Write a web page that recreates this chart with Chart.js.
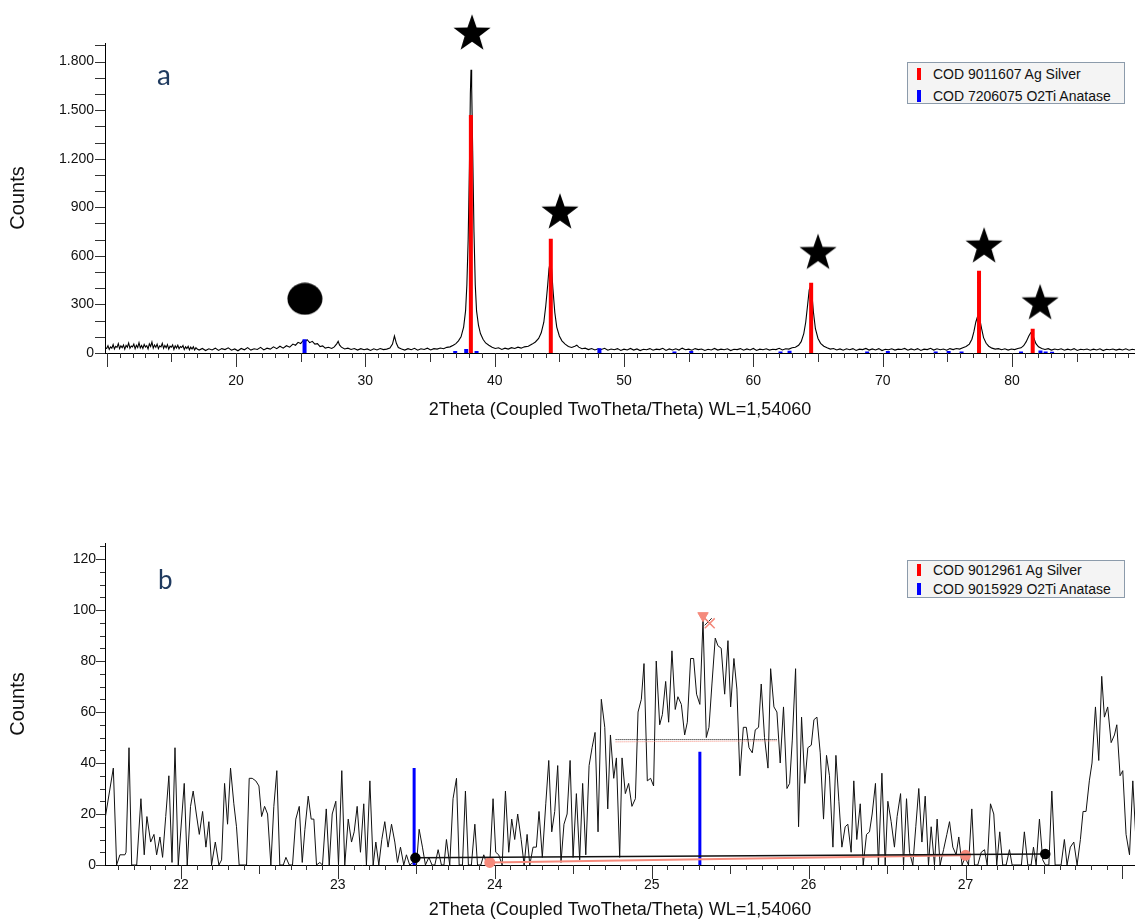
<!DOCTYPE html>
<html><head><meta charset="utf-8">
<script src="https://cdn.jsdelivr.net/npm/chart.js@4.4.1/dist/chart.umd.min.js"></script>
<style>
html,body{margin:0;padding:0;background:#fff;}
#wrap{position:relative;width:1135px;height:921px;overflow:hidden;background:#fff;font-family:"Liberation Sans",Arial,sans-serif;}
canvas{position:absolute;left:0;}
#ca{top:0}
#cb{top:460px}
.legend{position:absolute;left:907px;width:218px;background:#f4f4f4;border:1px solid #8c9bab;font-size:14px;color:#111;box-sizing:border-box;}
.legend .row{position:absolute;left:0;height:16px;line-height:16px;white-space:nowrap;}
.legend .mk{position:absolute;left:9px;top:2px;width:4px;height:12px;}
.legend .tx{position:absolute;left:25px;top:0;}
.panel-label{position:absolute;font-family:Lato,"Open Sans",sans-serif;color:#1f3a5f;}
</style></head>
<body>
<div id="wrap">
<canvas id="ca" width="1135" height="460"></canvas>
<canvas id="cb" width="1135" height="461"></canvas>
<div class="panel-label" style="left:157px;top:57px;font-size:28px;">a</div>
<div class="panel-label" style="left:158px;top:563px;font-size:26px;">b</div>
<div class="legend" style="top:62px;height:42px;">
  <div class="row" style="top:3px;"><span class="mk" style="background:#ff0000"></span><span class="tx" id="la1"></span></div>
  <div class="row" style="top:25px;"><span class="mk" style="background:#0000ff"></span><span class="tx" id="la2"></span></div>
</div>
<div class="legend" style="top:560px;height:38px;">
  <div class="row" style="top:1px;"><span class="mk" style="background:#ff0000"></span><span class="tx" id="lb1"></span></div>
  <div class="row" style="top:20px;"><span class="mk" style="background:#0000ff"></span><span class="tx" id="lb2"></span></div>
</div>
</div>
<script>
// ---------------- DATA ----------------
const legendA = ['COD 9011607 Ag Silver', 'COD 7206075 O2Ti Anatase'];
const legendB = ['COD 9012961 Ag Silver', 'COD 9015929 O2Ti Anatase'];
const axisTitleX = '2Theta (Coupled TwoTheta/Theta) WL=1,54060';
const axisTitleY = 'Counts';

// panel a: measured pattern [2theta, counts]
const scanA = [
[9.9,30],[10.0,28],[10.1,45],[10.2,22],[10.3,38],[10.4,30],[10.5,52],[10.6,25],[10.7,41],[10.8,35],[10.9,58],[11.0,27],[11.1,44],[11.2,33],[11.3,50],[11.4,24],[11.5,47],[11.6,36],[11.7,62],[11.8,29],[11.9,43],[12.0,38],[12.1,55],[12.2,26],[12.3,48],[12.4,34],[12.5,64],[12.6,31],[12.7,46],[12.8,28],[12.9,53],[13.0,37],[13.1,45],[13.2,25],[13.3,57],[13.4,40],[13.5,68],[13.6,30],[13.7,49],[13.8,35],[13.9,55],[14.0,27],[14.1,44],[14.2,38],[14.3,60],[14.4,29],[14.5,47],[14.6,33],[14.7,52],[14.8,24],[14.9,42],[15.0,36],[15.1,50],[15.2,22],[15.3,45],[15.4,31],[15.5,48],[15.6,26],[15.7,40],[15.8,34],[15.9,46],[16.0,21],[16.1,38],[16.2,28],[16.3,42],[16.4,20],[16.5,36],[16.6,25],[16.7,39],[16.8,19],[16.9,33],[17.0,24],[17.15,18],[17.4,28],[17.65,15],[17.9,26],[18.15,19],[18.4,30],[18.65,16],[18.9,27],[19.15,21],[19.4,32],[19.65,17],[19.9,25],[20.15,14],[20.4,28],[20.65,20],[20.9,33],[21.15,18],[21.4,26],[21.65,22],[21.9,35],[22.15,19],[22.4,30],[22.65,24],[22.9,38],[23.15,27],[23.4,42],[23.65,30],[23.9,45],[24.15,36],[24.4,55],[24.6,48],[24.8,66],[25.0,58],[25.2,78],[25.35,70],[25.5,82],[25.7,64],[25.9,72],[26.1,55],[26.3,58],[26.5,40],[26.7,44],[26.9,30],[27.15,35],[27.4,28],[27.6,38],[27.8,58],[27.9,72],[28.0,50],[28.15,36],[28.4,25],[28.65,30],[28.9,22],[29.15,28],[29.4,18],[29.65,27],[29.9,20],[30.15,25],[30.4,16],[30.65,26],[30.9,19],[31.15,28],[31.4,21],[31.65,24],[31.9,30],[32.1,55],[32.25,105],[32.4,60],[32.55,34],[32.8,25],[33.05,18],[33.3,27],[33.55,20],[33.8,29],[34.05,17],[34.3,26],[34.55,22],[34.8,30],[35.05,19],[35.3,27],[35.55,24],[35.8,31],[36.05,26],[36.3,35],[36.55,38],[36.8,48],[37.0,58],[37.2,75],[37.4,100],[37.6,160],[37.75,260],[37.85,420],[37.95,700],[38.05,1150],[38.12,1600],[38.17,1750],[38.22,1650],[38.3,1250],[38.4,750],[38.5,420],[38.6,260],[38.75,170],[38.9,120],[39.1,85],[39.3,62],[39.55,48],[39.8,35],[40.05,28],[40.3,32],[40.55,22],[40.8,30],[41.05,24],[41.3,33],[41.55,28],[41.8,36],[42.05,30],[42.3,38],[42.6,42],[42.9,55],[43.15,68],[43.4,90],[43.6,125],[43.8,190],[43.95,290],[44.1,420],[44.2,520],[44.3,565],[44.4,520],[44.5,400],[44.65,250],[44.8,160],[45.0,105],[45.2,75],[45.45,55],[45.7,40],[45.95,34],[46.2,42],[46.35,48],[46.5,36],[46.75,26],[47.0,30],[47.25,21],[47.5,28],[47.75,19],[48.0,26],[48.25,22],[48.5,29],[48.75,17],[49.0,25],[49.25,20],[49.5,27],[49.75,16],[50.0,24],[50.25,19],[50.5,28],[50.75,18],[51.0,25],[51.25,15],[51.5,23],[51.75,20],[52.0,27],[52.25,17],[52.5,24],[52.75,21],[53.0,29],[53.25,16],[53.5,25],[53.75,19],[54.0,26],[54.25,18],[54.5,30],[54.75,20],[55.0,24],[55.25,17],[55.5,27],[55.75,21],[56.0,25],[56.25,16],[56.5,23],[56.75,19],[57.0,28],[57.25,18],[57.5,24],[57.75,20],[58.0,26],[58.25,15],[58.5,23],[58.75,21],[59.0,27],[59.25,17],[59.5,25],[59.75,19],[60.0,28],[60.25,16],[60.5,24],[60.75,20],[61.0,26],[61.25,18],[61.5,23],[61.75,21],[62.0,29],[62.25,19],[62.5,26],[62.75,24],[63.0,32],[63.25,36],[63.5,48],[63.7,70],[63.9,120],[64.05,190],[64.2,300],[64.32,390],[64.42,410],[64.52,370],[64.65,250],[64.8,150],[65.0,90],[65.2,60],[65.45,42],[65.7,32],[65.95,24],[66.2,28],[66.45,19],[66.7,25],[66.95,17],[67.2,26],[67.45,20],[67.7,27],[67.95,16],[68.2,24],[68.45,21],[68.7,28],[68.95,18],[69.2,25],[69.45,19],[69.7,27],[69.95,15],[70.2,23],[70.45,20],[70.7,26],[70.95,18],[71.2,24],[71.45,22],[71.7,28],[71.95,17],[72.2,25],[72.45,19],[72.7,27],[72.95,16],[73.2,24],[73.45,21],[73.7,29],[73.95,18],[74.2,26],[74.45,20],[74.7,25],[74.95,17],[75.2,27],[75.45,21],[75.7,28],[75.95,24],[76.2,33],[76.45,40],[76.7,55],[76.9,85],[77.05,130],[77.2,190],[77.32,222],[77.42,228],[77.52,205],[77.65,150],[77.8,95],[78.0,60],[78.2,42],[78.45,30],[78.7,24],[78.95,27],[79.2,20],[79.45,26],[79.7,18],[79.95,25],[80.2,21],[80.45,28],[80.7,32],[80.9,45],[81.1,70],[81.3,105],[81.45,125],[81.55,122],[81.7,90],[81.85,58],[82.05,38],[82.3,28],[82.55,22],[82.8,27],[83.05,18],[83.3,25],[83.55,20],[83.8,26],[84.05,17],[84.3,24],[84.55,19],[84.8,27],[85.05,16],[85.3,23],[85.55,20],[85.8,25],[86.05,17],[86.3,24],[86.55,19],[86.8,26],[87.05,15],[87.3,23],[87.55,20],[87.8,25],[88.05,18],[88.3,24],[88.55,19],[88.8,26],[89.05,17],[89.3,23],[89.55,20]
];
// panel a reference lines
const agPosA = [38.16, 44.34, 64.47, 77.45, 81.6];
const agIntA = [1470, 706, 434, 508, 150];
const tiPosA = [25.3, 36.95, 37.8, 38.6, 48.1, 53.9, 55.2, 62.1, 62.8, 68.8, 70.4, 74.1, 75.1, 76.1, 80.7, 82.2, 82.6, 83.1];
const tiIntA = [85, 12, 25, 12, 30, 10, 12, 10, 14, 10, 12, 10, 12, 10, 10, 15, 10, 8];
// panel a annotations
const starPos = [38.25, 45.05, 65.0, 77.84, 82.17];
const starY = [1983, 878, 628, 668, 317];
const dotPos = [25.33];
const dotY = [335];

// panel b: measured pattern [2theta, counts]
const scanB = [
[21.516,18],[21.569,38],[21.590,0],[21.611,4],[21.643,4],[21.650,5],[21.669,46],[21.686,0],[21.718,0],[21.745,26],[21.766,4],[21.783,19],[21.807,9],[21.828,12],[21.845,4],[21.866,11],[21.883,3],[21.903,19],[21.923,35],[21.943,1],[21.962,46],[21.983,0],[22.021,32],[22.040,0],[22.061,23],[22.078,29],[22.098,20],[22.117,12],[22.138,21],[22.159,7],[22.178,17],[22.195,0],[22.219,9],[22.242,0],[22.259,2],[22.278,32],[22.297,16],[22.316,38],[22.337,24],[22.354,15],[22.371,0],[22.418,0],[22.435,34],[22.454,34],[22.477,33],[22.497,31],[22.514,19],[22.533,23],[22.552,20],[22.573,0],[22.592,23],[22.611,37],[22.630,0],[22.652,0],[22.669,3],[22.690,0],[22.711,0],[22.732,18],[22.754,23],[22.773,1],[22.790,14],[22.811,27],[22.830,18],[22.847,18],[22.864,0],[22.885,1],[22.902,0],[22.926,22],[22.945,0],[22.964,20],[22.987,25],[23.004,0],[23.025,37],[23.044,0],[23.066,18],[23.087,9],[23.104,13],[23.123,23],[23.144,5],[23.165,24],[23.182,0],[23.204,33],[23.225,0],[23.242,9],[23.261,0],[23.280,10],[23.299,17],[23.320,7],[23.342,16],[23.363,9],[23.380,1],[23.399,7],[23.420,0],[23.437,4],[23.458,0],[23.480,1],[23.501,0],[23.518,14],[23.539,7],[23.558,0],[23.580,3],[23.600,0],[23.618,0],[23.639,6],[23.660,0],[23.676,0],[23.692,10],[23.713,0],[23.734,26],[23.756,34],[23.773,0],[23.794,0],[23.813,29],[23.832,0],[23.851,0],[23.873,16],[23.890,0],[23.911,0],[23.930,4],[23.951,0],[23.968,0],[23.989,26],[24.006,5],[24.025,4],[24.047,0],[24.068,29],[24.089,5],[24.108,18],[24.127,10],[24.146,20],[24.168,10],[24.187,0],[24.206,12],[24.223,0],[24.244,7],[24.265,7],[24.282,21],[24.303,3],[24.325,24],[24.344,41],[24.363,13],[24.382,21],[24.401,39],[24.422,1],[24.441,16],[24.461,20],[24.480,41],[24.499,3],[24.520,28],[24.541,2],[24.560,32],[24.580,4],[24.601,39],[24.620,46],[24.639,52],[24.658,13],[24.679,65],[24.701,54],[24.720,22],[24.737,51],[24.758,34],[24.775,42],
[24.796,3],[24.811,42],[24.832,28],[24.853,32],[24.874,23],[24.896,26],[24.913,60],[24.934,65],[24.951,79],[24.972,33],[24.993,34],[25.012,31],[25.029,80],[25.051,55],[25.068,59],[25.089,72],[25.108,56],[25.129,84],[25.150,61],[25.167,66],[25.189,63],[25.210,51],[25.227,56],[25.248,81],[25.267,81],[25.286,67],[25.307,63],[25.327,96],[25.348,50],[25.365,54],[25.384,71],[25.405,89],[25.422,86],[25.443,85],[25.465,67],[25.486,88],[25.503,62],[25.524,81],[25.543,69],[25.562,35],[25.584,54],[25.603,54],[25.620,46],[25.641,44],[25.660,53],[25.681,54],[25.698,71],[25.719,50],[25.741,38],[25.758,77],[25.779,62],[25.798,60],[25.819,40],[25.840,62],[25.862,30],[25.879,32],[25.896,49],[25.917,77],[25.936,15],[25.955,58],[25.976,32],[25.995,46],[26.017,47],[26.034,57],[26.053,58],[26.074,44],[26.095,18],[26.114,43],[26.133,35],[26.155,7],[26.174,43],[26.193,25],[26.212,7],[26.233,15],[26.250,16],[26.271,5],[26.288,33],[26.307,10],[26.329,24],[26.348,0],[26.369,12],[26.388,13],[26.405,20],[26.426,32],[26.445,0],[26.467,36],[26.488,0],[26.505,25],[26.526,17],[26.547,7],[26.564,19],[26.586,28],[26.605,0],[26.624,26],[26.643,5],[26.664,0],[26.683,15],[26.702,30],[26.722,9],[26.743,27],[26.764,0],[26.781,15],[26.802,0],[26.819,18],[26.838,0],[26.860,6],[26.881,12],[26.898,17],[26.919,7],[26.940,4],[26.957,11],[26.978,0],[26.997,3],[27.019,0],[27.040,22],[27.057,0],[27.078,0],[27.100,5],[27.121,6],[27.138,0],[27.159,24],[27.180,20],[27.199,0],[27.218,13],[27.237,0],[27.259,0],[27.280,6],[27.297,0],[27.356,0],[27.375,13],[27.397,0],[27.418,0],[27.433,7],[27.450,0],[27.471,18],[27.492,2],[27.509,0],[27.531,0],[27.550,29],[27.571,0],[27.609,0],[27.630,10],[27.647,0],[27.668,7],[27.690,9],[27.711,0],[27.732,10],[27.749,21],[27.768,21],[27.789,33],[27.806,40],[27.828,62],[27.849,41],[27.868,74],[27.885,58],[27.906,62],[27.928,48],[27.949,51],[27.964,55],[27.985,35],[28.002,37],[28.023,12],[28.045,4],[28.066,33],[28.090,5]
];
// panel b reference lines (anatase)
const tiPosB = [23.486, 25.307];
const tiIntB = [38, 44.4];
// panel b analysis overlays
const bgBlack = [[23.494, 2.8], [27.508, 4.3]];
const bgSalmon = [[23.968, 1.0], [27.0, 3.8]];
const fwhmBlack = [[24.77, 49.2], [25.80, 49.2]];
const fwhmSalmon = [[24.77, 48.3], [25.80, 48.7]];
const peakTop = [[25.327, 97.8]];
const peakCross = [[25.37, 94.8]];

// ---------------- HELPERS ----------------
const pts = arr => arr.map(p => ({x: p[0], y: p[1]}));
function sticks(pos, val) {
  const out = [];
  pos.forEach((p, i) => { out.push({x: p, y: 0}, {x: p, y: val[i]}, {x: p, y: null}); });
  return out;
}
function makeStar(size) {
  const c = document.createElement('canvas'); c.width = size; c.height = size;
  const g = c.getContext('2d'); const R = size / 2 - 0.5, r = R * 0.4;
  const cx = size / 2, cy = size / 2 + 0.095 * R;
  g.beginPath();
  for (let k = 0; k < 10; k++) {
    const a = -Math.PI / 2 + k * Math.PI / 5, rad = (k % 2) ? r : R;
    g.lineTo(cx + rad * Math.cos(a), cy + rad * Math.sin(a));
  }
  g.closePath(); g.fillStyle = '#000'; g.fill();
  return c;
}
function makeEllipse(w, h) {
  const c = document.createElement('canvas'); c.width = w; c.height = h;
  const g = c.getContext('2d'); g.beginPath();
  g.ellipse(w / 2, h / 2, w / 2 - 0.5, h / 2 - 0.5, 0, 0, Math.PI * 2);
  g.fillStyle = '#000'; g.fill(); return c;
}
const fmtThousands = v => v >= 1000 ? Math.floor(v / 1000) + '.' + String(v % 1000).padStart(3, '0') : String(v);

const tickMarks = {
  id: 'tickMarks',
  afterDraw(chart, args, opts) {
    const {ctx} = chart; const xs = chart.scales.x, ys = chart.scales.y;
    ctx.save(); ctx.strokeStyle = '#333'; ctx.lineWidth = 1; ctx.beginPath();
    opts.xTicks.forEach(([v, len]) => {
      const px = Math.round(xs.getPixelForValue(v)) + 0.5;
      if (px < xs.left - 1 || px > xs.right + 1) return;
      ctx.moveTo(px, xs.top); ctx.lineTo(px, xs.top + len);
    });
    opts.yTicks.forEach(([v, len]) => {
      const py = Math.round(ys.getPixelForValue(v)) + 0.5;
      if (py < ys.top - 1 || py > ys.bottom + 1) return;
      ctx.moveTo(ys.right, py); ctx.lineTo(ys.right - len, py);
    });
    ctx.stroke(); ctx.restore();
  }
};

Chart.defaults.font.family = '"Liberation Sans", Arial, sans-serif';
Chart.defaults.color = '#111';

// tick marks lists
const xTicksA = [], yTicksA = [], xTicksB = [], yTicksB = [];
for (let i = 10; i <= 89; i++) xTicksA.push([i, i % 10 === 0 ? 14 : (i % 5 === 0 ? 9 : 5)]);
for (let v = 0; v <= 1900; v += 100) yTicksA.push([v, 10]);
for (let k = 216; k <= 280; k++) xTicksB.push([k / 10, k % 10 === 0 ? 14 : (k % 5 === 0 ? 9 : 5)]);
for (let v = 0; v <= 125; v += 5) yTicksB.push([v, v % 20 === 0 ? 9 : 5]);

document.getElementById('la1').textContent = legendA[0];
document.getElementById('la2').textContent = legendA[1];
document.getElementById('lb1').textContent = legendB[0];
document.getElementById('lb2').textContent = legendB[1];

// ---------------- CHART A ----------------
new Chart(document.getElementById('ca'), {
  type: 'line',
  data: { datasets: [
    { data: starPos.map((p, i) => ({x: p, y: starY[i]})), showLine: false, pointStyle: makeStar(40), pointRadius: 20, clip: false, order: 0 },
    { data: dotPos.map((p, i) => ({x: p, y: dotY[i]})), showLine: false, pointStyle: makeEllipse(36, 33), pointRadius: 18, clip: false, order: 0 },
    { data: sticks(agPosA, agIntA), borderColor: '#ff0000', borderWidth: 4, pointRadius: 0, borderCapStyle: 'butt', spanGaps: false, order: 1 },
    { data: sticks(tiPosA, tiIntA), borderColor: '#0000ff', borderWidth: 4, pointRadius: 0, borderCapStyle: 'butt', spanGaps: false, order: 2 },
    { data: pts(scanA), borderColor: '#000', borderWidth: 1.1, pointRadius: 0, tension: 0, order: 3 }
  ]},
  options: {
    responsive: false, animation: false, events: [],
    layout: { autoPadding: false, padding: { top: 43, left: 0, right: 0, bottom: 0 } },
    plugins: { legend: { display: false }, tooltip: { enabled: false }, tickMarks: { xTicks: xTicksA, yTicks: yTicksA } },
    scales: {
      x: { type: 'linear', min: 9.871, max: 89.51,
        grid: { display: false, drawTicks: true, tickLength: 14 },
        border: { display: true, color: '#000', width: 1 },
        ticks: { stepSize: 10, includeBounds: false, autoSkip: false, maxRotation: 0, padding: 6,
                 font: { size: 14 }, callback: v => (v === 10 ? '' : String(v)) },
        title: { display: true, text: axisTitleX, font: { size: 18 }, color: '#111', padding: { top: 0, bottom: 39 } },
        afterFit: s => { s.height = 107; } },
      y: { type: 'linear', min: 0, max: 1915,
        grid: { display: false, drawTicks: true, tickLength: 10 },
        border: { display: true, color: '#000', width: 1 },
        ticks: { stepSize: 300, includeBounds: false, padding: 1, font: { size: 14 }, callback: v => fmtThousands(v) },
        title: { display: true, text: axisTitleY, font: { size: 20 }, color: '#111', padding: { top: 6, bottom: 0 } },
        afterFit: s => { s.width = 105; } }
    }
  },
  plugins: [tickMarks]
});

// ---------------- CHART B ----------------
const salmon = '#f58a7c';
new Chart(document.getElementById('cb'), {
  type: 'line',
  data: { datasets: [
    { data: pts(peakTop), showLine: false, pointStyle: 'triangle', rotation: 180, pointRadius: 6, backgroundColor: salmon, borderColor: salmon, clip: false, order: 0 },
    { data: pts(peakCross), showLine: false, pointStyle: 'crossRot', pointRadius: 7, borderColor: salmon, borderWidth: 1.5, clip: false, order: 0 },
    { data: pts([[peakCross[0][0] - 0.01, peakCross[0][1] + 0.6]]), showLine: false, pointStyle: 'crossRot', pointRadius: 5, borderColor: '#222', borderWidth: 1, clip: false, order: 0 },
    { data: pts(bgBlack), borderColor: '#111', borderWidth: 1.5, pointRadius: 4.5, pointBackgroundColor: '#000', pointBorderColor: '#000', clip: false, order: 1 },
    { data: pts(bgSalmon), borderColor: salmon, borderWidth: 2, pointRadius: 4.5, pointBackgroundColor: salmon, pointBorderColor: salmon, clip: false, order: 1 },
    { data: pts(fwhmBlack), borderColor: '#000', borderWidth: 1, borderDash: [1, 1], pointRadius: 0, order: 1 },
    { data: pts(fwhmSalmon), borderColor: salmon, borderWidth: 1, borderDash: [1, 1], pointRadius: 0, order: 1 },
    { data: sticks(tiPosB, tiIntB), borderColor: '#0000ff', borderWidth: 3, pointRadius: 0, borderCapStyle: 'butt', spanGaps: false, order: 2 },
    { data: pts(scanB), borderColor: '#111', borderWidth: 1, pointRadius: 0, tension: 0, order: 3 }
  ]},
  options: {
    responsive: false, animation: false, events: [],
    layout: { autoPadding: false, padding: { top: 83, left: 0, right: 0, bottom: 0 } },
    plugins: { legend: { display: false }, tooltip: { enabled: false }, tickMarks: { xTicks: xTicksB, yTicks: yTicksB } },
    scales: {
      x: { type: 'linear', min: 21.516, max: 28.08,
        grid: { display: false, drawTicks: true, tickLength: 12 },
        border: { display: true, color: '#000', width: 1 },
        ticks: { stepSize: 1, includeBounds: false, autoSkip: false, maxRotation: 0, padding: 0,
                 font: { size: 14 }, callback: v => (v >= 28 ? '' : String(v)) },
        title: { display: true, text: axisTitleX, font: { size: 18 }, color: '#111', padding: { top: 0, bottom: 0 } },
        afterFit: s => { s.height = 56; } },
      y: { type: 'linear', min: 0, max: 126.3,
        grid: { display: false, drawTicks: true, tickLength: 9 },
        border: { display: true, color: '#000', width: 1 },
        ticks: { stepSize: 20, includeBounds: false, padding: 0, font: { size: 14 } },
        title: { display: true, text: axisTitleY, font: { size: 20 }, color: '#111', padding: { top: 6, bottom: 0 } },
        afterFit: s => { s.width = 105; } }
    }
  },
  plugins: [tickMarks]
});
</script>
</body></html>
